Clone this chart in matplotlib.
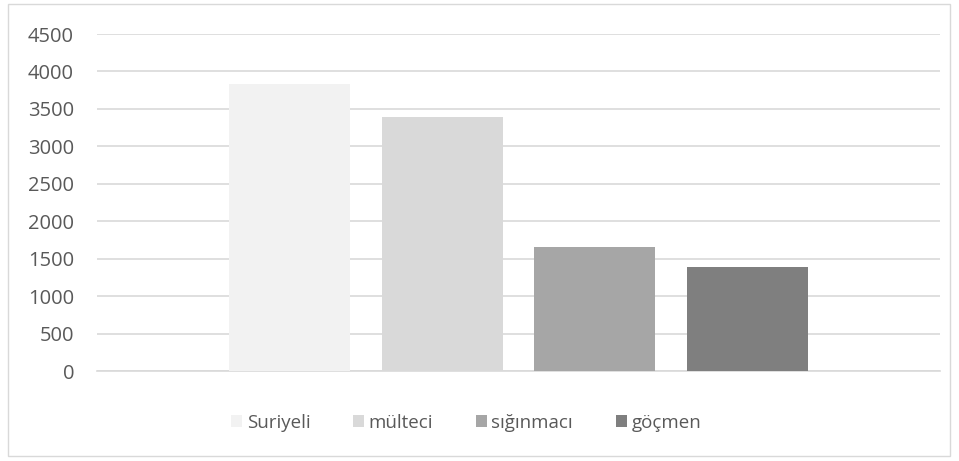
import matplotlib
matplotlib.use("Agg")
import matplotlib.pyplot as plt
from matplotlib.patches import Rectangle

categories = ["Suriyeli", "mülteci", "sığınmacı", "göçmen"]
values = [3830, 3390, 1655, 1390]
colors = ["#f2f2f2", "#d9d9d9", "#a6a6a6", "#7f7f7f"]
yticks = [0, 500, 1000, 1500, 2000, 2500, 3000, 3500, 4000, 4500]

plt.rcParams['font.family'] = ['Open Sans', 'DejaVu Sans']

W, H = 959, 461
fig = plt.figure(figsize=(W / 100, H / 100), dpi=100)
ax = fig.add_axes([97 / W, 1 - 371 / H, (940 - 97) / W, (371 - 34) / H])

handles = []
for i, (c, v, col) in enumerate(zip(categories, values, colors)):
    h = ax.bar(i, v, width=121 / 153, color=col, label=c, zorder=3)
    handles.append(h)

ax.set_ylim(0, 4500)
ax.set_xlim(-1.255, 4.255)
ax.set_yticks(yticks)
ax.set_yticklabels([str(t) for t in yticks])
ax.set_xticks([])
ax.yaxis.grid(True, color="#d9d9d9", linewidth=1.2, zorder=0)
for s in ["top", "right", "left"]:
    ax.spines[s].set_visible(False)
ax.spines["bottom"].set_color("#d9d9d9")
ax.spines["bottom"].set_linewidth(1.2)
ax.tick_params(axis="y", length=0, pad=16.5, labelsize=14.5, labelcolor="#595959")

leg = fig.legend(handles=handles, labels=categories, loc="center",
                 bbox_to_anchor=(466 / W, 1 - 423 / H), ncol=4, frameon=False,
                 fontsize=13.5, handlelength=0.6, handleheight=0.6,
                 handletextpad=0.25, columnspacing=2.26, labelcolor="#595959")

fig.patches.append(Rectangle((8 / W, 1 - 456 / H), (950 - 8) / W, (456 - 4) / H,
                             transform=fig.transFigure, fill=False,
                             edgecolor="#d9d9d9", linewidth=1))

fig.savefig("out.png", dpi=100)
